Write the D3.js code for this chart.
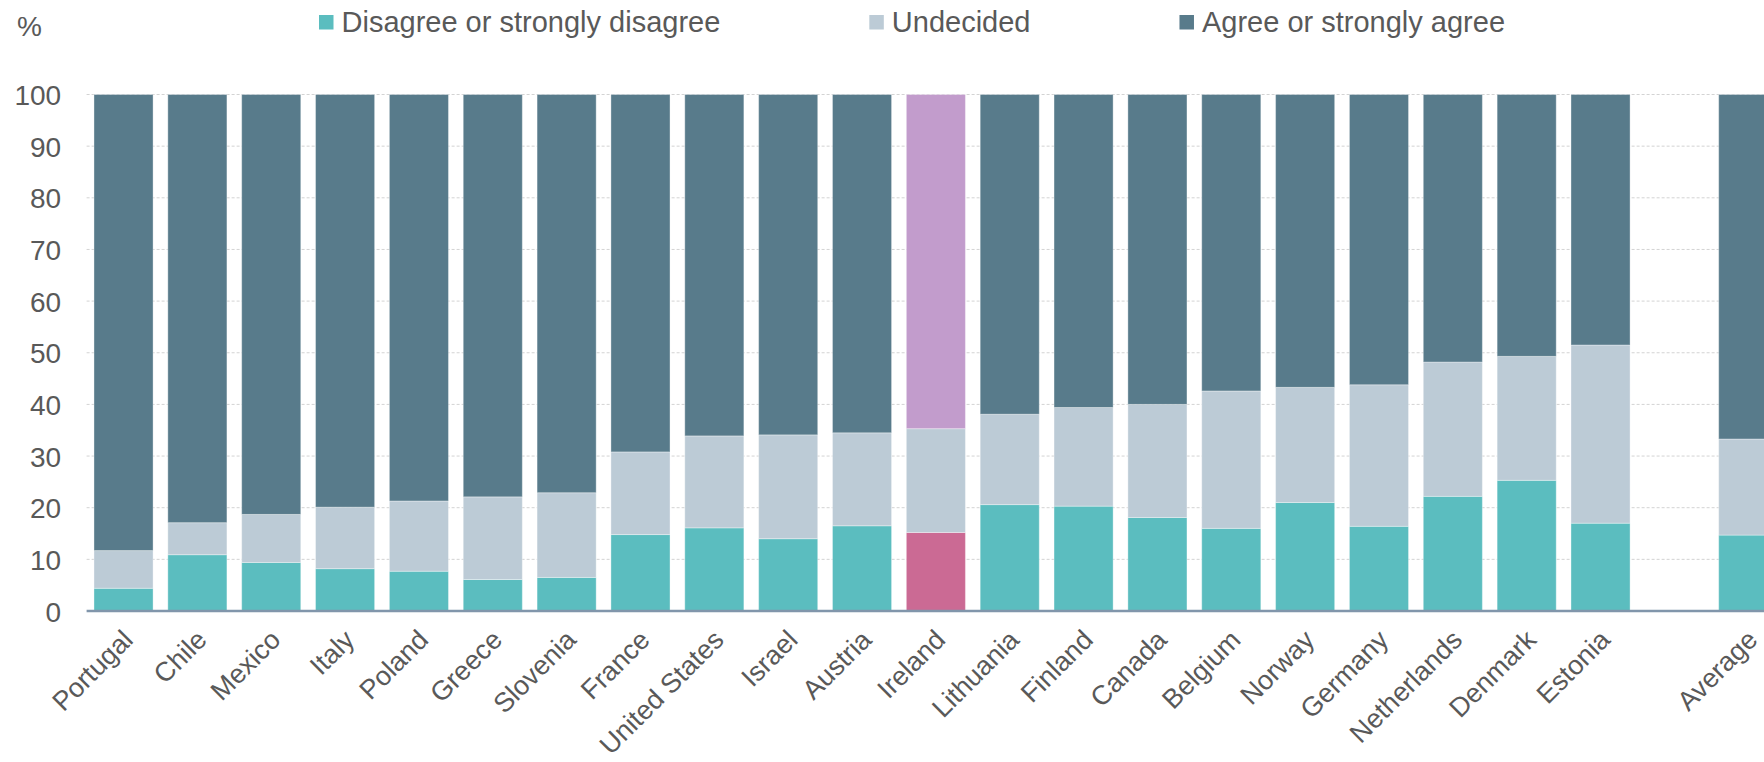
<!DOCTYPE html>
<html>
<head>
<meta charset="utf-8">
<script src="https://cdn.jsdelivr.net/npm/d3@7"></script>
<style>
  html, body { margin: 0; padding: 0; background: #fff; }
  svg { display: block; font-family: "Liberation Sans", Arial, sans-serif; }
</style>
</head>
<body>
<svg id="chart" width="1764" height="762"></svg>
<script>
// Countries in display order; a blank slot separates the average.
const countries = ["Portugal","Chile","Mexico","Italy","Poland","Greece","Slovenia","France",
  "United States","Israel","Austria","Ireland","Lithuania","Finland","Canada","Belgium",
  "Norway","Germany","Netherlands","Denmark","Estonia","Average"];
const spacer = "_gap";
const highlight = "Ireland";

// Shares of respondents (%)
const disagree  = [4.4, 10.9, 9.4, 8.2, 7.7, 6.1, 6.5, 14.8, 16.1, 14.0, 16.5, 15.2, 20.6, 20.3, 18.1, 16.0, 21.0, 16.4, 22.2, 25.3, 17.0, 14.7];
const undecided = [7.3, 6.2, 9.3, 11.9, 13.6, 16.0, 16.4, 16.0, 17.8, 20.1, 18.0, 20.1, 17.5, 19.1, 21.9, 26.6, 22.3, 27.4, 26.0, 24.0, 34.5, 18.6];
const agree     = [88.3, 82.9, 81.3, 79.9, 78.7, 77.9, 77.1, 69.2, 66.1, 65.9, 65.5, 64.7, 61.9, 60.6, 60.0, 57.4, 56.7, 56.2, 51.8, 50.7, 48.5, 66.7];

const seriesKeys   = ["disagree", "undecided", "agree"];
const seriesLabels = ["Disagree or strongly disagree", "Undecided", "Agree or strongly agree"];
const yTicks = [0, 10, 20, 30, 40, 50, 60, 70, 80, 90, 100];

const colors = { disagree: "#5bbdbf", undecided: "#bccbd6", agree: "#587b8b" };
const highlightColors = { disagree: "#cb6a94", undecided: "#bccbd6", agree: "#c29ccc" };
const textColor = "#595959";

const rows = countries.map((c, i) => ({
  country: c, disagree: disagree[i], undecided: undecided[i], agree: agree[i]
}));

const svg = d3.select("#chart");
const W = 1764;
const plotLeft = 86.6, plotTop = 94.5, plotBottom = 611;
const step = 73.85;

const domain = [...countries.slice(0, 21), spacer, countries[21]];
const x = d3.scaleBand()
  .domain(domain)
  .range([plotLeft, plotLeft + step * domain.length])
  .paddingInner(0.2)
  .paddingOuter(0.1);

const y = d3.scaleLinear().domain([0, 100]).range([plotBottom, plotTop]);

// Gridlines
svg.append("g")
  .selectAll("line")
  .data(yTicks.filter(t => t > 0))
  .join("line")
  .attr("x1", plotLeft).attr("x2", W)
  .attr("y1", d => y(d)).attr("y2", d => y(d))
  .attr("stroke", "#d3d3d3")
  .attr("stroke-width", 1)
  .attr("stroke-dasharray", "3,2");

// Y axis labels
const yAxis = d3.axisLeft(y).tickValues(yTicks).tickSize(0).tickPadding(0);
const gy = svg.append("g").attr("transform", `translate(${plotLeft - 25.5},0)`).call(yAxis);
gy.select(".domain").remove();
gy.selectAll("text")
  .attr("fill", textColor)
  .attr("font-size", 28)
  .attr("font-family", "Liberation Sans, Arial, sans-serif")
  .attr("dy", "0.36em");

svg.append("text")
  .attr("x", 17).attr("y", 35.5)
  .attr("font-size", 28)
  .attr("fill", textColor)
  .text("%");

// Stacked bars
const stack = d3.stack().keys(seriesKeys);
const layers = stack(rows);

const barG = svg.append("g");
layers.forEach(layer => {
  const key = layer.key;
  barG.append("g")
    .selectAll("rect")
    .data(layer)
    .join("rect")
    .attr("x", d => x(d.data.country))
    .attr("width", x.bandwidth())
    .attr("y", d => y(d[1]))
    .attr("height", d => y(d[0]) - y(d[1]))
    .attr("fill", d => d.data.country === highlight ? highlightColors[key] : colors[key])
    .attr("stroke", "rgba(255,255,255,0.35)")
    .attr("stroke-width", 1);
});

// Baseline
svg.append("line")
  .attr("x1", plotLeft).attr("x2", W)
  .attr("y1", y(0)).attr("y2", y(0))
  .attr("stroke", "#8196ab")
  .attr("stroke-width", 2.5);

// X axis labels, rotated
const xAxis = d3.axisBottom(x).tickSize(0).tickFormat(d => d === spacer ? "" : d);
const gx = svg.append("g").attr("transform", `translate(0,${y(0)})`).call(xAxis);
gx.select(".domain").remove();
gx.selectAll(".tick text")
  .attr("fill", textColor)
  .attr("font-size", 27)
  .attr("font-family", "Liberation Sans, Arial, sans-serif")
  .attr("text-anchor", "end")
  .attr("dy", null)
  .attr("y", 0)
  .attr("transform", "translate(11,30.5) rotate(-45)");

// Legend
const legend = svg.append("g");
let lx = 319;
seriesKeys.forEach((k, i) => {
  const g = legend.append("g").attr("transform", `translate(${lx},0)`);
  g.append("rect").attr("x", 0).attr("y", 15).attr("width", 14.5).attr("height", 14.5).attr("fill", colors[k]);
  const t = g.append("text")
    .attr("x", 22.5).attr("y", 32.3)
    .attr("font-size", 29)
    .attr("fill", textColor)
    .text(seriesLabels[i]);
  lx += 22.5 + t.node().getComputedTextLength() + 149;
});
</script>
</body>
</html>
